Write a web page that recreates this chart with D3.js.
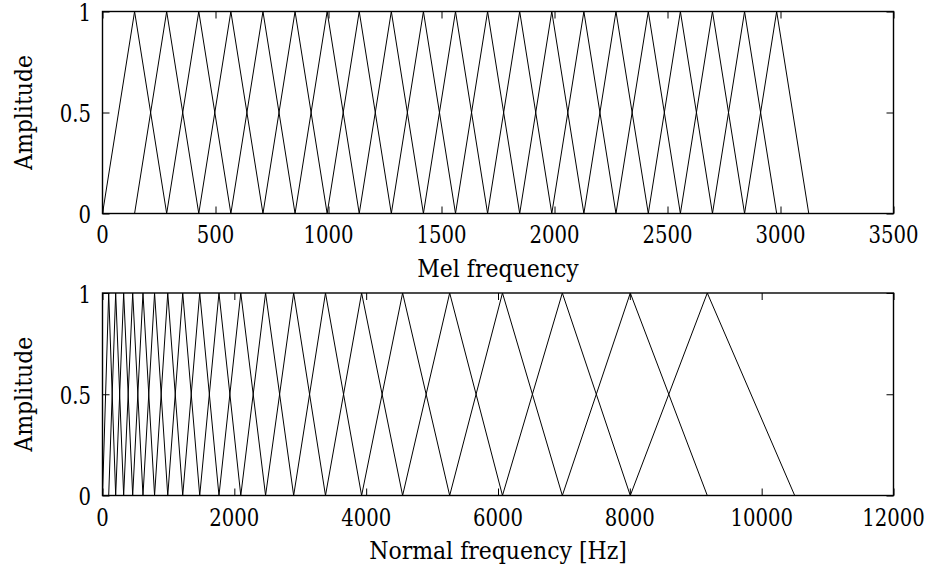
<!DOCTYPE html>
<html><head><meta charset="utf-8">
<script src="https://cdn.jsdelivr.net/npm/d3@7"></script>
<style>
html,body{margin:0;padding:0;background:#fff;}
svg text{font-family:"DejaVu Serif","Liberation Serif",serif;fill:#000;}
</style></head>
<body><svg id="c" width="930" height="572"></svg>
<script>
// Filter edge points (triangle vertices)
const melPoints = [0,142,284,426,568,710,852,994,1136,1278,1420,1562,1704,1846,1988,2130,2272,2415,2557,2699,2841,2983,3125];
const hzPoints = [0,94,200,321,458,614,790,990,1217,1475,1767,2098,2474,2900,3383,3931,4553,5267,6068,6976,8007,9175,10501];
const melTicks = [0,500,1000,1500,2000,2500,3000,3500];
const hzTicks = [0,2000,4000,6000,8000,10000,12000];
const ampTicks = [0,0.5,1];
const ampLabels = ["0","0.5","1"];

const svg = d3.select("#c");
const L = 102.5, R = 893.5;
const numSX = 0.82, titleSX = 0.88;

function panel(points, xMax, xTicks, top, bottom, xTitle, titleY, labelOff) {
  const x = d3.scaleLinear().domain([0, xMax]).range([L, R]);
  const y = d3.scaleLinear().domain([0, 1]).range([bottom, top]);
  const g = svg.append("g");
  const line = d3.line().x(d => x(d[0])).y(d => y(d[1]));
  for (let i = 1; i < points.length - 1; i++) {
    g.append("path")
      .attr("d", line([[points[i-1],0],[points[i],1],[points[i+1],0]]))
      .attr("fill","none").attr("stroke","#000").attr("stroke-width",1);
  }
  const tl = 7;
  const axB = d3.axisBottom(x).tickValues(xTicks).tickSize(-tl).tickFormat("");
  const axT = d3.axisTop(x).tickValues(xTicks).tickSize(-tl).tickFormat("");
  const axL = d3.axisLeft(y).tickValues(ampTicks).tickSize(-tl).tickFormat("");
  const axR = d3.axisRight(y).tickValues(ampTicks).tickSize(-tl).tickFormat("");
  [[axB,`translate(0,${bottom})`],[axT,`translate(0,${top})`],[axL,`translate(${L},0)`],[axR,`translate(${R},0)`]].forEach(([a,t])=>{
    const ag = g.append("g").attr("transform",t).call(a);
    ag.select(".domain").remove();
    ag.selectAll(".tick line").attr("stroke","#000").attr("stroke-width",1);
  });
  g.append("rect").attr("x",L).attr("y",top).attr("width",R-L).attr("height",bottom-top)
    .attr("fill","none").attr("stroke","#000").attr("stroke-width",1.4);
  g.selectAll(".xl").data(xTicks).enter().append("text")
    .attr("transform", d => `translate(${x(d)},${bottom + labelOff}) scale(${numSX},1)`)
    .attr("text-anchor","middle").attr("font-size",24).text(d => d);
  g.selectAll(".yl").data(ampTicks).enter().append("text")
    .attr("transform", d => `translate(91,${y(d) + 9.5}) scale(${numSX},1)`)
    .attr("text-anchor","end").attr("font-size",24).text((d,i) => ampLabels[i]);
  g.append("text").attr("transform",`translate(${(L+R)/2},${titleY}) scale(${titleSX},1)`)
    .attr("text-anchor","middle").attr("font-size",25).text(xTitle);
  g.append("text").attr("transform",`translate(32,${(top+bottom)/2}) rotate(-90) scale(${titleSX},1)`)
    .attr("text-anchor","middle").attr("font-size",25).text("Amplitude");
}

panel(melPoints, 3500, melTicks, 11.5, 213.5, "Mel frequency", 277, 29.5);
panel(hzPoints, 12000, hzTicks, 293, 495.5, "Normal frequency [Hz]", 559, 30.5);
</script></body></html>
